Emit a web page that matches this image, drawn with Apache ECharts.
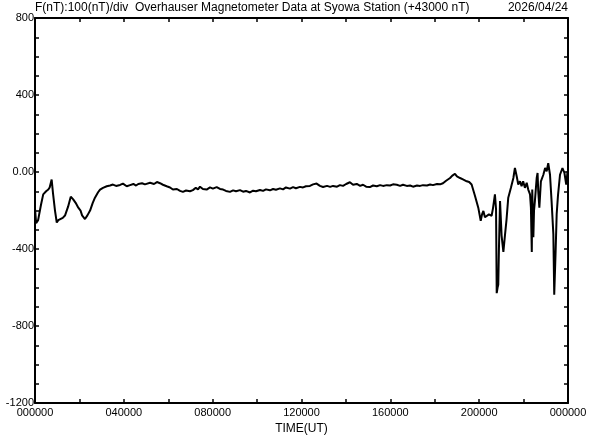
<!DOCTYPE html>
<html><head><meta charset="utf-8">
<script src="https://cdn.jsdelivr.net/npm/echarts@6/dist/echarts.min.js"></script>
<style>html,body{margin:0;padding:0;background:#fff}#c{width:592px;height:440px}</style>
</head><body><div id="c"></div>
<script>
const titleText = "F(nT):100(nT)/div  Overhauser Magnetometer Data at Syowa Station (+43000 nT)";
const dateText = "2026/04/24";
const xAxisName = "TIME(UT)";
const yTickLabels = {"800":"800","400":"400","0":"0.00","-400":"-400","-800":"-800","-1200":"-1200"};
const timeHours = [0.00,0.05,0.14,0.27,0.37,0.45,0.50,0.60,0.66,0.70,0.75,0.81,0.90,0.98,1.05,1.13,1.25,1.35,1.49,1.61,1.72,1.83,1.95,2.05,2.12,2.25,2.36,2.48,2.60,2.70,2.84,
2.93,3.06,3.23,3.38,3.51,3.65,3.74,3.83,3.96,4.13,4.28,4.43,4.55,4.65,4.82,4.95,5.18,5.36,5.49,5.63,5.76,5.93,6.08,6.21,6.39,6.53,6.66,6.80,6.98,7.11,7.24,7.34,7.43,7.56,7.73,7.88,8.01,8.18,8.33,8.47,8.60,8.78,8.92,9.05,9.23,9.37,9.50,9.68,9.82,9.95,10.13,10.27,10.40,10.58,10.72,10.85,11.03,11.17,11.30,11.48,11.62,11.75,11.93,12.07,12.20,12.38,12.52,12.68,12.83,12.97,13.15,13.29,13.42,13.60,13.73,13.87,14.01,14.18,14.32,14.49,14.64,14.77,14.91,15.08,15.22,15.39,15.54,15.67,15.84,15.99,16.12,16.29,16.44,16.57,16.74,16.89,17.02,17.20,17.34,17.47,17.65,17.79,17.92,18.10,18.24,18.37,18.51,18.69,18.78,18.91,19.00,19.14,19.27,19.44,19.55,19.66,19.81,19.96,20.07,20.13,20.19,20.26,20.34,20.44,20.56,20.62,20.71,20.76,20.79,20.83,20.86,20.89,20.94,21.01,21.09,21.16,21.23,21.31,21.43,21.54,21.61,21.69,21.76,21.84,21.91,21.98,22.06,22.14,22.21,22.29,22.33,22.37,22.39,22.44,22.47,22.51,22.59,22.63,22.66,22.71,22.78,22.89,22.97,23.04,23.11,23.19,23.26,23.34,23.38,23.44,23.49,23.55,23.64,23.75,23.84,23.92,23.98,24.00];
const fValues = [-190,-265,-250,-170,-116,-108,-100,-91,-80,-70,-39,-110,-200,-262,-250,-244,-238,-226,-180,-128,-142,-160,-185,-200,-225,-244,-225,-200,-160,-133,-105,
-91,-82,-74,-70,-65,-72,-62,-67,-60,-74,-68,-62,-70,-62,-58,-64,-56,-62,-52,-58,-66,-74,-80,-91,-88,-98,-103,-96,-100,-94,-82,-90,-76,-88,-91,-80,-86,-78,-88,-91,-98,-103,-95,-100,-94,-102,-98,-106,-97,-100,-93,-98,-90,-95,-88,-92,-85,-90,-80,-86,-78,-84,-77,-80,-74,-72,-64,-60,-72,-78,-72,-77,-72,-76,-68,-72,-62,-53,-66,-62,-72,-66,-76,-78,-70,-74,-68,-72,-68,-70,-64,-66,-72,-66,-72,-70,-76,-70,-72,-68,-70,-65,-68,-62,-64,-58,-45,-31,-20,-9,-22,-31,-38,-48,-52,-65,-123,-185,-253,-220,-202,-235,-244,-220,-227,-190,-116,-193,-629,-600,-586,-400,-150,-330,-415,-330,-250,-133,-82,-31,21,-22,-65,-48,-74,-48,-82,-56,-91,-116,-185,-415,-91,-338,-200,-150,-31,-5,-99,-185,-48,-14,21,4,46,-14,-150,-321,-637,-420,-219,-120,-14,21,-5,-65,4,-20];

const data = timeHours.map((t,i)=>[t,fValues[i]]);
const fnt = "Liberation Sans";
const axLine = {show:true,onZero:false,lineStyle:{color:'#000',width:2}};
const tick = {show:true,inside:true,length:4,lineStyle:{color:'#000',width:1.5}};
function fmtX(v){const h=Math.round(v)%24;return (h<10?'0':'')+h+'0000';}
const chart = echarts.init(document.getElementById('c'),null,{renderer:'canvas'});
chart.setOption({
  animation:false,
  backgroundColor:'#fff',
  title:[
    {text:titleText,left:35,top:2,padding:0,textStyle:{fontFamily:fnt,fontSize:12,fontWeight:'normal',color:'#000'}},
    {text:dateText,right:24,top:2,padding:0,textStyle:{fontFamily:fnt,fontSize:12,fontWeight:'normal',color:'#000'}}
  ],
  grid:{left:35,right:24,top:18,bottom:32,containLabel:false},
  xAxis:[
    {type:'value',min:0,max:24,interval:2,position:'bottom',
     name:xAxisName,nameLocation:'middle',nameGap:16,nameTextStyle:{fontFamily:fnt,fontSize:12,color:'#000'},
     axisLine:axLine,axisTick:tick,splitLine:{show:false},
     axisLabel:{fontFamily:fnt,fontSize:11,color:'#000',margin:4,
       formatter:v=> (v%4===0)?fmtX(v):''}},
    {type:'value',min:0,max:24,interval:2,position:'top',
     axisLine:axLine,axisTick:tick,splitLine:{show:false},axisLabel:{show:false}}
  ],
  yAxis:[
    {type:'value',min:-1200,max:800,interval:100,position:'left',
     axisLine:axLine,axisTick:tick,splitLine:{show:false},
     axisLabel:{fontFamily:fnt,fontSize:11,color:'#000',margin:1,
       formatter:v=> yTickLabels[String(v)]||''}},
    {type:'value',min:-1200,max:800,interval:100,position:'right',
     axisLine:axLine,axisTick:tick,splitLine:{show:false},axisLabel:{show:false}}
  ],
  series:[{type:'line',data:data,showSymbol:false,symbol:'none',
    lineStyle:{color:'#000',width:2},xAxisIndex:0,yAxisIndex:0}]
});
</script></body></html>
